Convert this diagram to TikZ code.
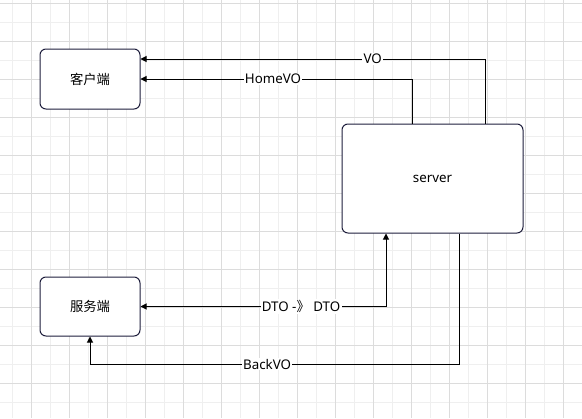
\documentclass[tikz,border=0pt]{standalone}
\usepackage{fontspec}
\setmainfont{Noto Sans}
\newfontfamily\cjk{Noto Sans CJK SC}
\usepackage{tikz}
\usetikzlibrary{arrows.meta}
\definecolor{GridLight}{HTML}{EFEFEF}
\definecolor{GridDark}{HTML}{DCDCDC}
\definecolor{BoxEdge}{HTML}{1E1E3C}
\tikzset{
  roundbox/.style={draw=BoxEdge,rounded corners=4.5pt,line width=0.75pt,fill=white,align=center,inner sep=0pt,font=\fontsize{10}{12}\selectfont},
  linkarrow/.style={-{Triangle[length=4.5pt,width=4.5pt]},line width=0.75pt,draw=black},
  botharrow/.style={{Triangle[length=4.5pt,width=4.5pt]}-{Triangle[length=4.5pt,width=4.5pt]},line width=0.75pt,draw=black},
  linklabel/.style={fill=white,inner sep=1pt,font=\fontsize{10}{12}\selectfont}
}

\begin{document}
\begin{tikzpicture}[x=0.75pt,y=-0.75pt]
\useasboundingbox (0,0) rectangle (582,418);
% grid
\foreach \gx in {12.3,31.3,...,582} \draw[GridLight,line width=0.75pt] (\gx,0) -- (\gx,418);
\foreach \gy in {3.3,22.3,...,418} \draw[GridLight,line width=0.75pt] (0,\gy) -- (582,\gy);
\foreach \gx in {31.3,69.3,...,582} \draw[GridDark,line width=0.75pt] (\gx,0) -- (\gx,418);
\foreach \gy in {3.3,41.3,...,418} \draw[GridDark,line width=0.75pt] (0,\gy) -- (582,\gy);

% boxes
\node[roundbox,minimum width=75pt,minimum height=45pt] (client) at (90,79) {\cjk 客户端};
\node[roundbox,minimum width=135.75pt,minimum height=81.75pt] (server) at (432.5,178.5) {server};
\node[roundbox,minimum width=75pt,minimum height=44.25pt] (backend) at (90,306.5) {\cjk 服务端};

% bends
\coordinate (voturn) at (485,59);
\coordinate (hometurn) at (412,79);
\coordinate (dtoturn) at (386,306.5);
\coordinate (backturn) at (459,364);

% links
\draw[linkarrow] (server.north -| voturn) |- (client.east |- voturn) node[linklabel,pos=0.663] {VO};
\draw[linkarrow] (server.north -| hometurn) |- (client.east) node[linklabel,pos=0.756] {HomeVO};
\draw[botharrow] (backend.east) -| (server.south -| dtoturn) node[linklabel,pos=0.327] {DTO -{\cjk 》} DTO};
\draw[linkarrow] (server.south -| backturn) -- (backturn) -| (backend.south) node[linklabel,pos=0.26] {BackVO};
\end{tikzpicture}
\end{document}
